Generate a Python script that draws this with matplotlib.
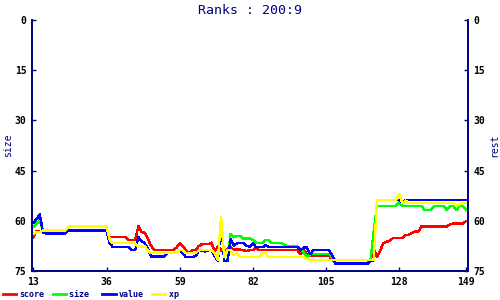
import matplotlib
matplotlib.use("Agg")
import matplotlib.pyplot as plt
import numpy as np

days = list(range(13, 150))

score = [64.9, 63.0, 63.0, 63.5, 63.8, 63.8, 63.8, 63.8, 63.8, 63.8, 63.8,
         62.9, 62.9, 62.9, 62.9, 62.9, 62.9, 62.9, 62.9, 62.9, 62.9, 62.9, 62.9, 62.9,
         64.9, 64.9, 64.9, 64.9, 64.9, 64.9, 65.7, 65.7, 65.7, 61.6, 63.3, 63.6, 65.5,
         67.5, 68.8, 68.8, 68.8, 68.8, 68.8, 68.8, 68.8, 68.0, 66.7, 67.5, 69.0, 69.6,
         68.8, 68.8, 67.5, 67.0, 67.0, 67.0, 66.5, 69.3, 67.5, 68.8, 69.6, 68.3,
         68.0, 68.6, 68.6, 68.6, 68.8, 69.0, 68.8,
         68.8, 68.3, 68.8, 68.8, 68.8, 68.8, 68.8, 68.8, 68.8, 68.8, 68.8, 68.8, 68.8,
         68.8, 68.8, 70.0, 68.8, 70.0, 70.5, 70.5, 70.5, 70.5, 70.5, 70.5, 70.5, 71.8,
         72.8, 72.8, 72.8, 72.8, 72.8, 72.8, 72.8, 72.8, 72.8, 72.8, 72.8, 71.8, 68.3,
         70.9, 69.0, 66.7, 66.3, 66.0, 65.2, 65.2, 65.2, 65.2, 64.2, 64.2, 63.7, 63.2,
         63.2, 61.7, 61.7, 61.7, 61.7, 61.7, 61.7, 61.7, 61.7, 61.7, 61.0, 60.8, 60.8,
         60.8, 60.8, 60.1]

size = [61.8, 60.8, 59.8, 63.0, 63.8, 63.8, 63.8, 63.8, 63.8, 63.8, 63.8,
        62.9, 62.9, 62.9, 62.9, 62.9, 62.9, 62.9, 62.9, 62.9, 62.9, 62.9, 62.9, 62.9,
        66.7, 67.9, 67.9, 67.9, 67.9, 67.9, 67.9, 68.8, 68.8, 64.9, 66.0, 66.7, 68.5,
        70.7, 70.7, 70.7, 70.7, 70.7, 69.7, 69.7, 69.7, 69.7, 68.8, 69.7, 70.9, 70.9,
        70.9, 70.5, 69.0, 68.8, 69.2, 68.8, 68.8, 70.5, 72.0, 60.5, 72.0, 72.0,
        63.8, 64.9, 64.5, 64.5, 65.3, 65.3, 65.3,
        65.7, 66.5, 66.7, 66.7, 65.7, 65.7, 66.7, 66.7, 66.7, 66.7, 67.2, 67.7, 67.7,
        67.7, 67.7, 68.5, 69.5, 70.9, 70.0, 69.9, 69.9, 69.9, 69.9, 69.9, 69.9, 71.0,
        71.8, 71.8, 71.8, 71.8, 71.8, 71.8, 71.8, 71.8, 71.8, 71.8, 71.8, 71.6, 63.0,
        55.6, 55.6, 55.6, 55.6, 55.6, 55.6, 55.6, 54.4, 55.6, 55.6, 55.6, 55.6, 55.6,
        55.6, 55.6, 56.8, 56.8, 56.8, 55.6, 55.6, 55.6, 55.6, 56.8, 55.6, 55.6, 56.8,
        55.6, 55.6, 56.8]

value = [60.6, 59.5, 58.0, 63.5, 63.8, 63.8, 63.8, 63.8, 63.8, 63.8, 63.8,
         62.9, 62.9, 62.9, 62.9, 62.9, 62.9, 62.9, 62.9, 62.9, 62.9, 62.9, 62.9, 62.9,
         66.7, 67.9, 67.9, 67.9, 67.9, 67.9, 67.9, 68.8, 68.8, 64.9, 66.0, 66.7, 68.5,
         70.7, 70.7, 70.7, 70.7, 70.7, 69.7, 69.7, 69.7, 69.7, 68.8, 69.7, 70.9, 70.9,
         70.9, 70.5, 69.0, 68.8, 69.2, 68.8, 68.8, 70.5, 72.0, 60.5, 72.0, 72.0,
         65.5, 67.5, 66.7, 66.7, 66.7, 67.5, 67.7,
         66.7, 67.9, 67.9, 67.9, 67.3, 67.9, 67.9, 67.9, 67.9, 67.9, 67.9, 67.9, 67.9,
         67.9, 67.9, 68.8, 68.0, 68.0, 70.0, 68.8, 68.8, 68.8, 68.8, 68.8, 68.8, 70.5,
         72.8, 72.8, 72.8, 72.8, 72.8, 72.8, 72.8, 72.8, 72.8, 72.8, 72.8, 72.0, 71.8,
         53.8, 53.8, 53.8, 53.8, 53.8, 53.8, 53.8, 53.8, 54.4, 53.8, 53.8, 53.8, 53.8,
         53.8, 53.8, 53.8, 53.8, 53.8, 53.8, 53.8, 53.8, 53.8, 53.8, 53.8, 53.8, 53.8,
         53.8, 53.8, 53.8]

xp = [63.8, 63.4, 63.4, 62.9, 62.9, 62.9, 62.9, 62.9, 62.9, 62.9, 62.9,
      61.7, 61.7, 61.7, 61.7, 61.7, 61.7, 61.7, 61.7, 61.7, 61.7, 61.7, 61.7, 61.7,
      65.7, 66.7, 66.7, 66.7, 66.7, 66.7, 66.7, 66.7, 66.7, 67.7, 67.7, 67.7, 68.8,
      69.7, 69.7, 69.7, 69.7, 69.7, 69.7, 69.7, 69.7, 69.7, 68.8, 68.8, 69.7, 69.7,
      69.7, 69.7, 68.8, 68.8, 68.8, 68.8, 68.8, 69.7, 71.8, 58.7, 71.0, 68.8,
      68.8, 70.3, 69.7, 70.9, 70.9, 70.9, 70.9,
      70.9, 70.9, 70.9, 69.7, 69.7, 70.9, 70.9, 70.9, 70.9, 70.9, 70.9, 70.9, 70.9,
      70.9, 70.9, 70.9, 70.9, 71.3, 71.8, 71.8, 71.8, 71.8, 71.8, 71.8, 71.8, 71.8,
      71.8, 71.8, 71.8, 71.8, 71.8, 71.8, 71.8, 71.8, 71.8, 71.8, 71.8, 71.8, 71.8,
      53.8, 53.8, 53.8, 53.8, 53.8, 53.8, 53.8, 51.8, 54.8, 54.0, 54.7, 54.7, 54.7,
      54.7, 54.7, 54.7, 54.7, 54.7, 54.7, 54.7, 54.7, 54.7, 54.7, 54.7, 54.7, 55.5,
      55.0, 54.7, 54.7]

series = [("score", score, "#ff0000"), ("size", size, "#00ff00"),
          ("value", value, "#0000ff"), ("xp", xp, "#ffff00")]
legend_labels = ["score", "size ", "value", "xp   "]

x_ticks = [13, 36, 59, 82, 105, 128, 149]
y_ticks = [0, 15, 30, 45, 60, 75]
title = "Ranks : 200:9"
left_label = "size"
right_label = "rest"

navy = "#000080"
mono = "DejaVu Sans Mono"

fig = plt.figure(figsize=(5, 3), dpi=100)
ax = fig.add_axes([32/500, 29/300, 436/500, 251/300])

handles = []
for name, vals, col in series:
    h, = ax.plot(days, vals, color=col, lw=1.0, antialiased=False, solid_joinstyle="miter")
    handles.append(h)

ax.set_xlim(12.55, 149.63)
ax.set_ylim(75, 0)
ax.set_xticks(x_ticks)
ax.set_yticks(y_ticks)

ax.spines["top"].set_visible(False)
for s in ["left", "right", "bottom"]:
    ax.spines[s].set_color(navy)
    ax.spines[s].set_linewidth(1.4)

ax.tick_params(axis="both", direction="in", length=3, width=1, color=navy,
               labelsize=7, labelcolor="black")
ax.tick_params(axis="y", which="both", left=True, right=True, labelleft=True,
               labelright=True, pad=4)
ax.tick_params(axis="x", pad=4)
for lab in ax.get_xticklabels() + ax.get_yticklabels():
    lab.set_family(mono)
    lab.set_fontweight("bold")

fig.text(8/500, 1 - 145/300, left_label, rotation=90, ha="center", va="center",
         color=navy, family=mono, fontsize=7)
fig.text(494/500, 1 - 145/300, right_label, rotation=90, ha="center", va="center",
         color=navy, family=mono, fontsize=7)

fig.text(0.5, 1 - 10/300, title, ha="center", va="center", color=navy,
         family=mono, fontsize=9.5)

leg = fig.legend(handles, legend_labels, ncol=4, loc="center left",
                 bbox_to_anchor=(0.006, 0.019), frameon=False,
                 prop={"family": mono, "size": 6, "weight": "bold"},
                 labelcolor=navy, handlelength=1.6, handletextpad=0.4,
                 columnspacing=0.96, borderpad=0, borderaxespad=0)
for l in leg.get_lines():
    l.set_linewidth(2)

fig.savefig("out.png", dpi=100)
